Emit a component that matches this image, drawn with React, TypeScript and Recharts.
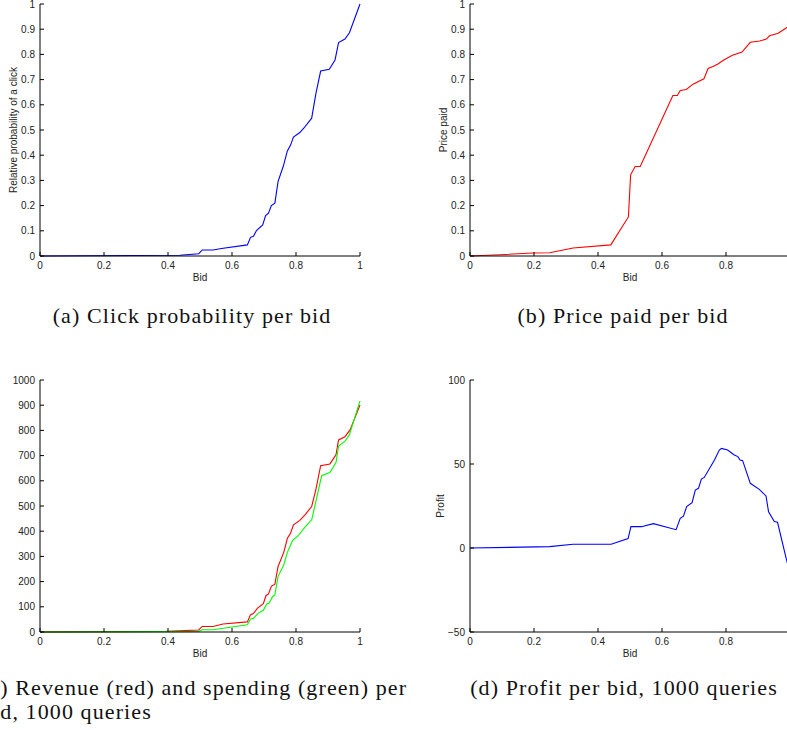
import { Line, LineChart, XAxis, YAxis } from "recharts";

// (a) click probability per bid
const clickBid = [0, 0.437, 0.496, 0.507, 0.541, 0.567, 0.648, 0.658, 0.667, 0.677, 0.696, 0.705, 0.714, 0.723, 0.734, 0.744, 0.76, 0.773, 0.783, 0.792, 0.812, 0.825, 0.849, 0.862, 0.877, 0.904, 0.922, 0.933, 0.953, 0.967, 1];
const clickProb = [0, 0.003, 0.009, 0.024, 0.024, 0.03, 0.044, 0.074, 0.078, 0.102, 0.123, 0.16, 0.17, 0.2, 0.21, 0.296, 0.355, 0.417, 0.44, 0.472, 0.49, 0.508, 0.547, 0.643, 0.734, 0.741, 0.778, 0.847, 0.861, 0.886, 1];

// (b) price paid per bid
const priceBid = [0, 0.093, 0.197, 0.249, 0.322, 0.44, 0.495, 0.502, 0.516, 0.532, 0.634, 0.648, 0.657, 0.676, 0.697, 0.731, 0.744, 0.759, 0.775, 0.793, 0.82, 0.85, 0.876, 0.905, 0.926, 0.936, 0.963, 0.989, 1];
const pricePaid = [0, 0.005, 0.012, 0.013, 0.032, 0.044, 0.155, 0.322, 0.355, 0.355, 0.637, 0.637, 0.657, 0.661, 0.682, 0.703, 0.744, 0.752, 0.762, 0.778, 0.797, 0.809, 0.848, 0.853, 0.861, 0.874, 0.884, 0.906, 0.915];

// (c) revenue (red) and spending (green), 1000 queries
const revenueBid = [0, 0.395, 0.496, 0.507, 0.541, 0.572, 0.648, 0.658, 0.667, 0.679, 0.698, 0.706, 0.714, 0.723, 0.734, 0.744, 0.762, 0.773, 0.783, 0.792, 0.812, 0.828, 0.849, 0.862, 0.877, 0.906, 0.925, 0.933, 0.953, 0.969, 1];
const revenue = [0, 2.6, 8, 22, 22, 32, 40, 69, 73, 94, 112, 144, 151, 181, 190, 260, 317, 372, 392, 425, 443, 465, 498, 564, 660, 667, 703, 762, 775, 802, 901];
const spendingBid = [0, 0.395, 0.496, 0.507, 0.541, 0.648, 0.658, 0.667, 0.682, 0.698, 0.708, 0.716, 0.727, 0.734, 0.744, 0.762, 0.773, 0.789, 0.807, 0.828, 0.849, 0.865, 0.88, 0.906, 0.925, 0.933, 0.953, 0.967, 1];
const spending = [0, 1.3, 2.6, 9, 9, 29, 52, 54, 75, 86, 110, 115, 141, 147, 221, 267, 316, 363, 382, 416, 445, 534, 620, 633, 672, 738, 757, 783, 917];

// (d) profit per bid, 1000 queries
const profitBid = [0, 0.249, 0.322, 0.441, 0.494, 0.503, 0.536, 0.573, 0.644, 0.657, 0.667, 0.677, 0.694, 0.704, 0.714, 0.723, 0.732, 0.764, 0.779, 0.786, 0.805, 0.826, 0.837, 0.844, 0.852, 0.876, 0.904, 0.925, 0.933, 0.951, 0.961, 0.988, 1];
const profit = [0, 0.8, 2.2, 2.2, 5.6, 12.7, 12.7, 14.5, 10.9, 17.7, 19, 24.6, 27, 34.5, 35.5, 41, 42, 52.4, 58.3, 59.3, 58.3, 55.4, 54.4, 52.4, 52, 38.5, 34.9, 31, 21.6, 15.7, 15.3, -6.2, -15];

const bidTicksFull = [0, 0.2, 0.4, 0.6, 0.8, 1];
const bidTicksCut = [0, 0.2, 0.4, 0.6, 0.8];
const unitTicks = [0, 0.1, 0.2, 0.3, 0.4, 0.5, 0.6, 0.7, 0.8, 0.9, 1];
const queryTicks = [0, 100, 200, 300, 400, 500, 600, 700, 800, 900, 1000];
const profitTicks = [-50, 0, 50, 100];

const toRows = (xs: number[], ys: number[]) => xs.map((bid, i) => ({ bid, v: ys[i] }));

const SANS = '"Liberation Sans", Arial, sans-serif';
const SERIF = '"Liberation Serif", "Times New Roman", serif';
const fmt = (v: number) => (v < 0 ? "\u2212" + Math.abs(v) : String(v));

const BottomTick = ({ x, y, payload }: any) => (
  <g>
    <line x1={x} y1={y} x2={x} y2={y - 4} stroke="#000" />
    <text x={x} y={y + 13} textAnchor="middle" fontSize={10} fontFamily={SANS} fill="#222">
      {fmt(payload.value)}
    </text>
  </g>
);
const LeftTick = ({ x, y, payload }: any) => (
  <g>
    <line x1={x} y1={y} x2={x + 4} y2={y} stroke="#000" />
    <text x={x - 5} y={y + 3.6} textAnchor="end" fontSize={10} fontFamily={SANS} fill="#222">
      {fmt(payload.value)}
    </text>
  </g>
);
const TopTick = ({ x, y }: any) => <line x1={x} y1={y} x2={x} y2={y + 4} stroke="#000" />;
const RightTick = ({ x, y }: any) => <line x1={x} y1={y} x2={x - 4} y2={y} stroke="#000" />;

const YLabel = ({ text, cx, cy }: any) => (
  <text x={cx} y={cy} transform={`rotate(-90 ${cx} ${cy})`} textAnchor="middle" dominantBaseline="central" fontSize={10} fontFamily={SANS} fill="#222">
    {text}
  </text>
);
const XLabel = ({ cx, cy }: any) => (
  <text x={cx} y={cy} textAnchor="middle" dominantBaseline="central" fontSize={10} fontFamily={SANS} fill="#222">
    Bid
  </text>
);

type PanelProps = {
  left: number;
  top: number;
  axisW: number;
  yDomain: [number, number];
  yTicks: number[];
  xTicks: number[];
  yLabel?: string;
  yLabelX?: number;
  box: boolean;
  series: { rows: { bid: number; v: number }[]; color: string }[];
};

function Panel({ left, top, axisW, yDomain, yTicks, xTicks, yLabel, yLabelX, box, series }: PanelProps) {
  const W = axisW + 320 + 20;
  return (
    <div style={{ position: "absolute", left, top }}>
      <LineChart width={W} height={290} margin={{ top: 4, right: 20, bottom: 0, left: 0 }}>
        <XAxis
          dataKey="bid"
          type="number"
          domain={[0, 1]}
          ticks={xTicks}
          interval={0}
          height={34}
          tickSize={0}
          tickMargin={0}
          tickLine={false}
          axisLine={{ stroke: "#000" }}
          tick={<BottomTick />}
          label={<XLabel cx={axisW + 160} cy={256 + 21.5} />}
        />
        <YAxis
          type="number"
          domain={yDomain}
          ticks={yTicks}
          interval={0}
          width={axisW}
          tickSize={0}
          tickMargin={0}
          tickLine={false}
          axisLine={{ stroke: "#000" }}
          tick={<LeftTick />}
          label={yLabel ? <YLabel text={yLabel} cx={yLabelX} cy={130} /> : undefined}
        />
        {box && (
          <XAxis
            xAxisId="top"
            orientation="top"
            type="number"
            domain={[0, 1]}
            allowDataOverflow
            ticks={xTicks}
            interval={0}
            height={0}
            tickSize={0}
            tickMargin={0}
            tickLine={false}
            axisLine={{ stroke: "#000" }}
            tick={<TopTick />}
          />
        )}
        {box && (
          <YAxis
            yAxisId="right"
            orientation="right"
            type="number"
            domain={yDomain}
            allowDataOverflow
            ticks={yTicks}
            interval={0}
            width={0}
            tickSize={0}
            tickMargin={0}
            tickLine={false}
            axisLine={{ stroke: "#000" }}
            tick={<RightTick />}
          />
        )}
        {series.map((s, i) => (
          <Line
            key={i}
            data={s.rows}
            dataKey="v"
            type="linear"
            stroke={s.color}
            strokeWidth={1.1}
            dot={false}
            activeDot={false}
            isAnimationActive={false}
          />
        ))}
      </LineChart>
    </div>
  );
}

const captionStyle = {
  position: "absolute" as const,
  fontFamily: SERIF,
  fontSize: 22,
  letterSpacing: 1.1,
  color: "#111",
  whiteSpace: "nowrap" as const,
  lineHeight: "24px",
};

export default function App() {
  return (
    <div style={{ position: "absolute", left: 0, top: 0, width: 787, height: 730, overflow: "hidden", background: "#fff" }}>
      <Panel
        left={0}
        top={0}
        axisW={40}
        yDomain={[0, 1]}
        yTicks={unitTicks}
        xTicks={bidTicksFull}
        yLabel="Relative probability of a click"
        yLabelX={13}
        box
        series={[{ rows: toRows(clickBid, clickProb), color: "#0000ff" }]}
      />
      <Panel
        left={400}
        top={0}
        axisW={70}
        yDomain={[0, 1]}
        yTicks={unitTicks}
        xTicks={bidTicksCut}
        yLabel="Price paid"
        yLabelX={43}
        box
        series={[{ rows: toRows(priceBid, pricePaid), color: "#ff0000" }]}
      />
      <Panel
        left={0}
        top={376}
        axisW={40}
        yDomain={[0, 1000]}
        yTicks={queryTicks}
        xTicks={bidTicksFull}
        box={false}
        series={[
          { rows: toRows(revenueBid, revenue), color: "#ff0000" },
          { rows: toRows(spendingBid, spending), color: "#00ff00" },
        ]}
      />
      <Panel
        left={400}
        top={376}
        axisW={70}
        yDomain={[-50, 100]}
        yTicks={profitTicks}
        xTicks={bidTicksCut}
        yLabel="Profit"
        yLabelX={40}
        box
        series={[{ rows: toRows(profitBid, profit), color: "#0000ff" }]}
      />

      <div style={{ ...captionStyle, left: -8, width: 400, top: 304, textAlign: "center" }}>(a) Click probability per bid</div>
      <div style={{ ...captionStyle, left: 423, width: 400, top: 304, textAlign: "center" }}>(b) Price paid per bid</div>
      <div style={{ ...captionStyle, left: -19, top: 676 }}>(c) Revenue (red) and spending (green) per</div>
      <div style={{ ...captionStyle, left: -19, top: 700 }}>bid, 1000 queries</div>
      <div style={{ ...captionStyle, left: 424, width: 400, top: 676, textAlign: "center" }}>(d) Profit per bid, 1000 queries</div>
    </div>
  );
}
